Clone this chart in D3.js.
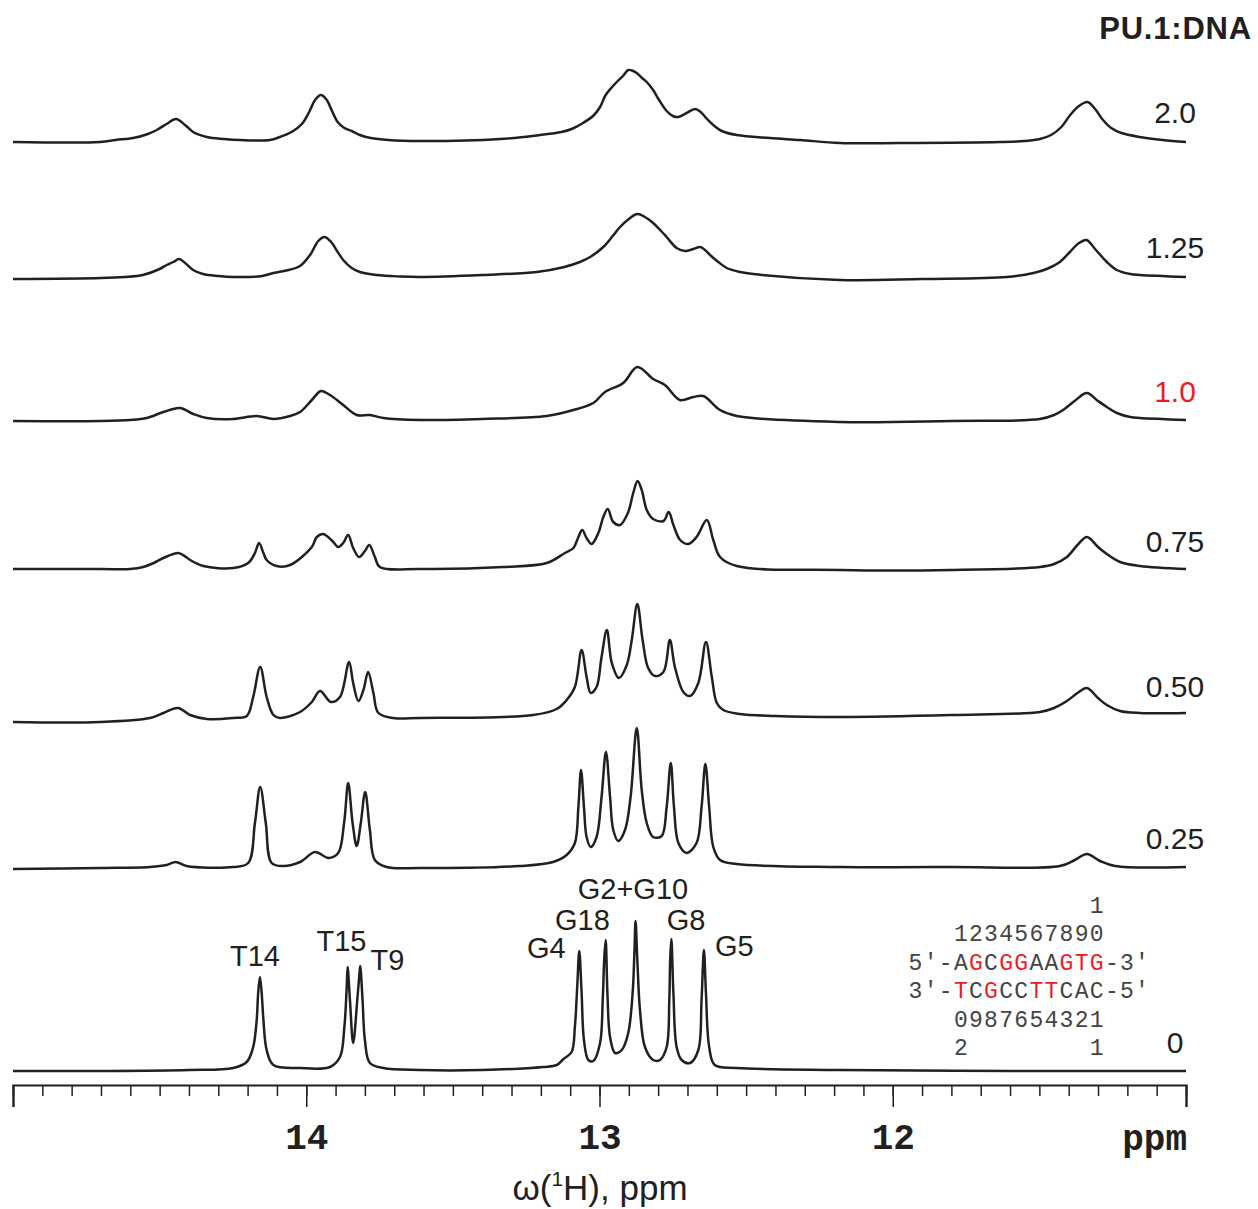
<!DOCTYPE html>
<html>
<head>
<meta charset="utf-8">
<script src="https://cdn.jsdelivr.net/npm/d3@7"></script>
<style>
  body { margin: 0; background: #fff; }
  svg { display: block; }
</style>
</head>
<body>
<div id="graph"></div>
<script>
// PU.1:DNA ratio of every spectrum, top to bottom
var ratios = ["2.0", "1.25", "1.0", "0.75", "0.50", "0.25", "0"]

// imino spectra, [ppm, intensity] pairs
var spec_2_0 = [[15.0,-1],[14.703,-1],[14.65,1],[14.59,3],[14.54,7],[14.510,11],[14.476,17],[14.444,22],[14.413,16],[14.386,9],[14.339,4],[14.28,2],[14.226,1],[14.124,1],[14.09,4],[14.05,9],[14.015,17],[13.990,29],[13.970,41],[13.950,46],[13.930,41],[13.912,30],[13.893,19],[13.870,13],[13.845,10],[13.817,6],[13.78,3],[13.72,1],[13.612,0],[13.339,2],[13.203,6],[13.13,9],[13.095,12],[13.056,18],[13.022,25],[12.998,34],[12.981,45],[12.960,53],[12.941,59],[12.920,65],[12.902,71],[12.885,70],[12.873,68],[12.855,63],[12.839,59],[12.817,51],[12.799,42],[12.771,30],[12.750,25],[12.731,24],[12.703,28],[12.674,32],[12.655,29],[12.633,22],[12.612,16],[12.583,10],[12.532,6],[12.419,3],[12.316,1],[12.180,-2],[11.975,-2],[11.634,-1],[11.55,0],[11.498,2],[11.460,6],[11.425,14],[11.395,26],[11.365,35],[11.336,39],[11.310,32],[11.283,21],[11.255,13],[11.22,8],[11.157,4],[11.08,1],[11.0,-1]]
var spec_1_25 = [[15.0,-1],[14.70,0],[14.62,1],[14.557,3],[14.50,9],[14.476,13],[14.453,16],[14.434,19],[14.413,15],[14.386,8],[14.352,4],[14.30,2],[14.25,1],[14.15,2],[14.112,5],[14.06,8],[14.021,12],[13.987,23],[13.959,37],[13.938,41],[13.915,36],[13.895,27],[13.874,18],[13.845,10],[13.817,6],[13.76,3],[13.68,1.5],[13.612,1],[13.40,3],[13.214,6],[13.12,11],[13.067,16],[13.032,21],[12.987,31],[12.955,42],[12.930,51],[12.900,59],[12.871,64],[12.845,61],[12.817,55],[12.790,47],[12.771,41],[12.737,30],[12.708,27],[12.680,29],[12.657,31],[12.640,28],[12.623,23],[12.595,16],[12.566,10],[12.520,6],[12.476,4],[12.180,-2],[11.90,-1],[11.611,1],[11.52,5],[11.475,9],[11.43,16],[11.396,26],[11.365,35],[11.339,38],[11.31,29],[11.270,16],[11.236,8],[11.19,4],[11.157,3],[11.0,1]]
var spec_1_0 = [[15.0,0],[14.70,0],[14.60,1],[14.544,3],[14.487,9],[14.431,13],[14.385,7],[14.339,3],[14.250,2],[14.169,5],[14.112,2],[14.055,5],[14.021,9],[13.981,21],[13.950,30],[13.919,26],[13.874,16],[13.828,6],[13.783,6],[13.737,3],[13.612,1],[13.40,2],[13.180,5],[13.089,11],[13.021,18],[12.981,29],[12.919,38],[12.871,54],[12.817,42],[12.777,36],[12.726,21],[12.680,24],[12.646,25],[12.589,11],[12.532,5],[12.180,-1],[11.80,0],[11.498,2],[11.45,6],[11.419,11],[11.38,20],[11.338,28],[11.30,20],[11.270,14],[11.236,8],[11.19,4],[11.157,3],[11.0,1]]
var spec_0_75 = [[15.0,0],[14.70,0],[14.60,0],[14.556,2],[14.52,6],[14.487,11],[14.436,16],[14.41,12],[14.396,9],[14.351,3],[14.249,1],[14.198,6],[14.175,16],[14.161,26],[14.146,16],[14.135,9],[14.101,3],[14.055,4],[13.981,22],[13.964,32],[13.942,35],[13.908,27],[13.891,22],[13.874,26],[13.857,34],[13.840,21],[13.820,12],[13.800,18],[13.785,24],[13.766,12],[13.749,2],[13.612,0],[13.328,2],[13.180,6],[13.118,16],[13.089,21],[13.072,32],[13.059,39],[13.044,31],[13.027,25],[13.004,36],[12.987,52],[12.972,60],[12.953,47],[12.930,44],[12.902,57],[12.885,76],[12.870,88],[12.856,79],[12.839,59],[12.817,50],[12.782,48],[12.764,57],[12.748,44],[12.725,29],[12.697,25],[12.669,32],[12.634,49],[12.612,29],[12.589,12],[12.532,3],[12.180,-1],[11.80,-1],[11.498,2],[11.45,5],[11.406,12],[11.37,24],[11.338,32],[11.30,22],[11.270,15],[11.225,7],[11.157,3],[11.0,0]]
var spec_0_50 = [[15.0,0],[14.703,0],[14.533,4],[14.487,9],[14.438,14],[14.396,7],[14.339,3],[14.249,4],[14.203,6],[14.181,25],[14.157,55],[14.135,25],[14.112,7],[14.090,4],[14.021,10],[13.981,20],[13.953,31],[13.916,20],[13.885,25],[13.854,60],[13.840,39],[13.822,21],[13.805,32],[13.789,50],[13.771,29],[13.754,9],[13.703,4],[13.612,4],[13.226,7],[13.146,13],[13.112,22],[13.084,35],[13.061,72],[13.044,45],[13.030,29],[13.010,35],[12.993,65],[12.975,92],[12.958,59],[12.934,44],[12.907,57],[12.890,82],[12.871,118],[12.853,82],[12.834,54],[12.811,46],[12.782,50],[12.760,82],[12.743,55],[12.714,30],[12.691,26],[12.663,39],[12.637,80],[12.617,45],[12.600,19],[12.578,12],[12.521,8],[12.40,6],[12.180,5],[11.80,7],[11.498,10],[11.45,14],[11.406,21],[11.37,29],[11.338,34],[11.30,24],[11.270,17],[11.225,11],[11.157,9],[11.0,9]]
var spec_0_25 = [[15.0,0],[14.70,1],[14.533,2],[14.476,4],[14.445,7],[14.408,3],[14.249,2],[14.198,6],[14.175,46],[14.157,82],[14.138,46],[14.118,6],[14.078,3],[14.021,7],[13.970,17],[13.925,11],[13.891,16],[13.871,46],[13.857,86],[13.842,46],[13.828,23],[13.814,46],[13.799,77],[13.783,39],[13.766,9],[13.726,2],[13.612,1],[13.271,3],[13.158,7],[13.112,14],[13.084,26],[13.072,62],[13.063,99],[13.053,62],[13.044,32],[13.030,22],[13.010,32],[12.993,72],[12.978,117],[12.964,72],[12.953,39],[12.936,28],[12.913,39],[12.894,72],[12.873,141],[12.856,79],[12.839,46],[12.817,32],[12.788,33],[12.771,62],[12.757,106],[12.746,62],[12.731,26],[12.703,16],[12.669,26],[12.652,62],[12.639,105],[12.626,62],[12.612,22],[12.589,9],[12.532,5],[12.180,2],[11.80,2],[11.430,3],[11.379,9],[11.338,15],[11.293,8],[11.242,3],[11.0,2]]
var spec_0 = [[15.0,0],[14.70,0],[14.40,1],[14.249,3],[14.203,9],[14.181,24],[14.169,51],[14.164,78],[14.158,94],[14.152,78],[14.146,51],[14.135,21],[14.112,6],[14.021,3],[13.919,4],[13.885,14],[13.870,44],[13.862,84],[13.859,104],[13.851,71],[13.840,28],[13.826,71],[13.819,96],[13.816,105],[13.808,71],[13.800,31],[13.783,8],[13.737,3],[13.612,1],[13.40,1],[13.192,4],[13.146,6],[13.123,12],[13.095,19],[13.084,44],[13.076,84],[13.069,120],[13.061,78],[13.053,31],[13.038,11],[13.021,10],[12.998,28],[12.989,71],[12.984,111],[12.979,131],[12.973,78],[12.964,34],[12.947,18],[12.924,21],[12.902,38],[12.887,78],[12.881,118],[12.877,150],[12.871,111],[12.862,61],[12.845,24],[12.817,11],[12.794,11],[12.771,24],[12.762,71],[12.759,111],[12.755,132],[12.748,78],[12.737,24],[12.720,11],[12.691,8],[12.663,21],[12.652,71],[12.644,121],[12.637,78],[12.626,24],[12.607,6],[12.532,3],[12.180,1],[11.60,0],[11.0,0]]

var spectra = [spec_2_0, spec_1_25, spec_1_0, spec_0_75, spec_0_50, spec_0_25, spec_0]

// assignments of the free DNA peaks
var peakNames = ["T14", "T15", "T9", "G4", "G18", "G2+G10", "G8", "G5"]
var peakLabelPpm = [14.175, 13.880, 13.723, 13.181, 13.058, 12.886, 12.705, 12.540]
var peakLabelLevel = [105, 120, 101, 113, 141, 172, 141, 115]

// DNA duplex, red = contacted bases
var topStrand = "5'-AGCGGAAGTG-3'"
var topRed = [4, 6, 7, 10, 11, 12]
var botStrand = "3'-TCGCCTTCAC-5'"
var botRed = [3, 5, 8, 9]
var numberRows = ["            1", "   1234567890", null, null, "   0987654321", "   2        1"]

var majorTicks = [15, 14, 13, 12, 11]
var minorTicks = d3.range(110, 151).map(function(d){ return d / 10 })

// layout
var W = 1258, H = 1209
var baseY = [141, 278, 421, 569, 722, 869, 1071]
var axisY = 1085
var ink = "#231f20"
var red = "#ed1c24"
var sans = "'Liberation Sans', Arial, sans-serif"
var mono = "'Liberation Mono', 'Courier New', monospace"

var svg = d3.select("#graph")
.append("svg")
  .attr("width", W)
  .attr("height", H)

//x scale, ppm decreases to the right
var x = d3.scaleLinear()
  .domain([15, 11])
  .range([13, 1186])

//one y scale per trace, intensity grows upward from its baseline
var line = d3.line()
  .curve(d3.curveCatmullRom.alpha(0.5))

spectra.forEach(function(s, i){
  var y = d3.scaleLinear()
    .domain([0, 100])
    .range([baseY[i], baseY[i] - 100])
  line.x(function(d){ return x(d[0]) })
      .y(function(d){ return y(d[1]) })
  svg.append("path")
    .attr("d", line(s))
    .attr("fill", "none")
    .attr("stroke", ink)
    .attr("stroke-width", 2.5)
    .attr("stroke-linejoin", "round")
})

//ratio labels
var labelY = [123, 258, 402, 552, 697, 849, 1053]
svg.selectAll("text.ratio")
.data(ratios)
.enter()
.append("text")
  .attr("class", "ratio")
  .attr("x", 1175)
  .attr("y", function(d, i){ return labelY[i] })
  .attr("text-anchor", "middle")
  .attr("font-family", sans)
  .attr("font-size", 30)
  .attr("fill", function(d){ return d == "1.0" ? red : ink })
  .text(function(d){ return d })

svg.append("text")
  .attr("x", 1252)
  .attr("y", 39)
  .attr("text-anchor", "end")
  .attr("font-family", sans)
  .attr("font-weight", "bold")
  .attr("font-size", 31)
  .attr("letter-spacing", 0.8)
  .attr("fill", ink)
  .text("PU.1:DNA")

//peak assignments
var y0 = d3.scaleLinear().domain([0, 100]).range([baseY[6], baseY[6] - 100])
svg.selectAll("text.peak")
.data(peakNames)
.enter()
.append("text")
  .attr("class", "peak")
  .attr("x", function(d, i){ return x(peakLabelPpm[i]) })
  .attr("y", function(d, i){ return y0(peakLabelLevel[i]) })
  .attr("text-anchor", "middle")
  .attr("font-family", sans)
  .attr("font-size", 29)
  .attr("fill", ink)
  .text(function(d){ return d })

//sequence block, one glyph per column
var colX = function(c){ return 915.5 + c * 15.1 }
var rowY = [913, 941, 970, 998, 1027, 1055]
function drawRow(str, row, reds){
  str.split("").forEach(function(ch, c){
    if (ch == " ") return
    svg.append("text")
      .attr("x", colX(c))
      .attr("y", rowY[row])
      .attr("text-anchor", "middle")
      .attr("font-family", mono)
      .attr("font-size", 23)
      .attr("fill", reds && reds.indexOf(c) >= 0 ? red : "#444")
      .text(ch)
  })
}
numberRows.forEach(function(r, i){ if (r) drawRow(r, i, null) })
drawRow(topStrand, 2, topRed)
drawRow(botStrand, 3, botRed)

//axis: minor ticks then major ticks with labels
svg.append("g")
  .attr("transform", "translate(0," + axisY + ")")
  .call(d3.axisBottom(x).tickValues(minorTicks).tickSize(11).tickFormat(""))
  .call(function(g){ g.select(".domain").remove() })
  .selectAll("line").attr("stroke", ink).attr("stroke-width", 1.5)

var major = svg.append("g")
  .attr("transform", "translate(0," + axisY + ")")
  .call(d3.axisBottom(x).tickValues(majorTicks).tickSize(22).tickSizeOuter(22).tickPadding(16)
        .tickFormat(function(d){ return (d == 15 || d == 11) ? "" : d }))
major.select(".domain").attr("stroke", ink).attr("stroke-width", 2.2)
major.selectAll("line").attr("stroke", ink).attr("stroke-width", 1.5)
major.selectAll("text")
  .attr("font-family", mono)
  .attr("font-weight", "bold")
  .attr("font-size", 36)
  .attr("fill", ink)

svg.append("text")
  .attr("x", 1187)
  .attr("y", 1150)
  .attr("text-anchor", "end")
  .attr("font-family", mono)
  .attr("font-weight", "bold")
  .attr("font-size", 36)
  .attr("fill", ink)
  .text("ppm")

var title = svg.append("text")
  .attr("x", 600)
  .attr("y", 1200)
  .attr("text-anchor", "middle")
  .attr("font-family", sans)
  .attr("font-size", 35)
  .attr("fill", ink)
title.append("tspan").text("ω(")
title.append("tspan").attr("font-size", 21).attr("dy", -14).text("1")
title.append("tspan").attr("dy", 14).text("H), ppm")
</script>
</body>
</html>
